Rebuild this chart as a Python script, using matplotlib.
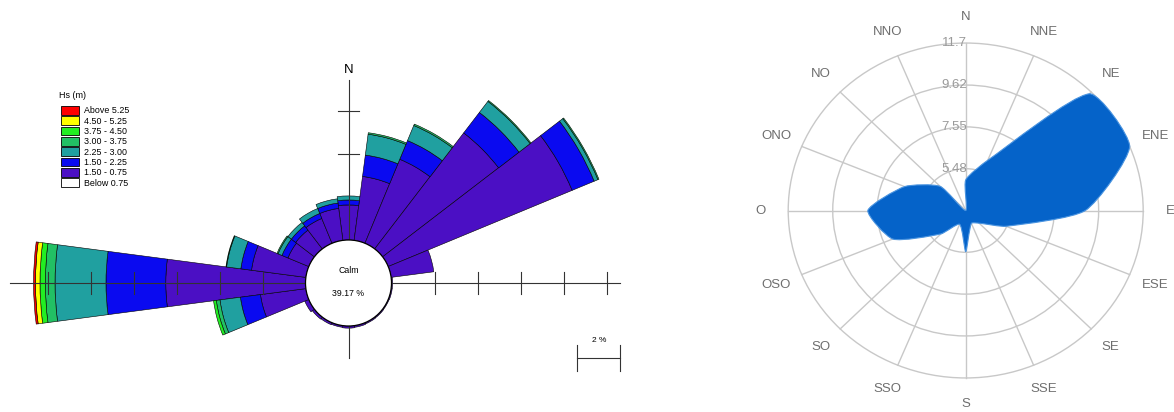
import numpy as np
import matplotlib
matplotlib.use('Agg')
import matplotlib.pyplot as plt
from matplotlib.patches import Wedge, Circle, Patch, PathPatch
from matplotlib.path import Path

plt.rcParams['font.family'] = ['Liberation Sans', 'DejaVu Sans']

# ---------------------------------------------------------------
# Rose des houles : fréquence (%) par secteur de 15° et classe de Hs
# ---------------------------------------------------------------
directions = np.arange(0, 360, 15)
hs_lt075 = [0, 0, 0, 0, 0, 0, 0, 0, 0, 0, 0, 0,
            0, 0, 0, 0, 0, 0, 0, 0, 0, 0, 0, 0]
hs_075_150 = [1.63, 3.00, 4.23, 6.80, 9.26, 2.00, 0.05, 0.05, 0.04, 0.05, 0.06, 0.08,
              0.10, 0.08, 0.10, 0.12, 0.20, 2.13, 6.50, 2.55, 1.05, 1.10, 1.25, 1.50]
hs_150_225 = [0.23, 1.00, 0.94, 1.20, 1.11, 0, 0, 0, 0, 0, 0, 0,
              0, 0, 0, 0, 0, 0.94, 2.78, 0.50, 0.30, 0.25, 0.25, 0.25]
hs_225_300 = [0.19, 0.98, 0.76, 0.65, 0.19, 0, 0, 0, 0, 0, 0, 0,
              0, 0, 0, 0, 0, 0.96, 2.37, 0.67, 0.20, 0.20, 0.25, 0.20]
hs_300_375 = [0, 0.07, 0.07, 0.05, 0.05, 0, 0, 0, 0, 0, 0, 0,
              0, 0, 0, 0, 0, 0.17, 0.45, 0.03, 0.05, 0, 0, 0]
hs_375_450 = [0, 0, 0, 0, 0, 0, 0, 0, 0, 0, 0, 0,
              0, 0, 0, 0, 0, 0.13, 0.25, 0, 0, 0, 0, 0]
hs_450_525 = [0, 0, 0, 0, 0, 0, 0, 0, 0, 0, 0, 0,
              0, 0, 0, 0, 0, 0, 0.21, 0, 0, 0, 0, 0]
hs_gt525 = [0, 0, 0, 0, 0, 0, 0, 0, 0, 0, 0, 0,
            0, 0, 0, 0, 0, 0, 0.09, 0, 0, 0, 0, 0]
calm_pct = 39.17

classes = [hs_lt075, hs_075_150, hs_150_225, hs_225_300,
           hs_300_375, hs_375_450, hs_450_525, hs_gt525]
class_labels = ['Below 0.75', '1.50 - 0.75', '1.50 - 2.25', '2.25 - 3.00',
                '3.00 - 3.75', '3.75 - 4.50', '4.50 - 5.25', 'Above 5.25']
class_colors = ['#ffffff', '#4b0fc4', '#0a0af0', '#20a0a0',
                '#22c064', '#22ee22', '#ffff00', '#ff0000']

# ---------------------------------------------------------------
# Rose radar : valeur par direction (16 secteurs)
# ---------------------------------------------------------------
radar_labels = ['N', 'NNE', 'NE', 'ENE', 'E', 'ESE', 'SE', 'SSE',
                'S', 'SSO', 'SO', 'OSO', 'O', 'ONO', 'NO', 'NNO']
radar_values = [4.92, 6.10, 11.58, 11.70, 9.00, 5.45, 4.30, 4.10,
                5.45, 4.15, 5.05, 7.10, 7.98, 6.50, 5.10, 3.41]
radar_ticks = [5.48, 7.55, 9.62, 11.7]
radar_min = 3.41


def spline_path(xs, ys, tension):
    """Contour fermé lissé (courbes de Bézier) passant par les points."""
    n = len(xs)
    pts = np.column_stack([xs, ys])
    cp_prev, cp_next = [], []
    for i in range(n):
        p0, p1, p2 = pts[i - 1], pts[i], pts[(i + 1) % n]
        d01 = np.hypot(*(p1 - p0))
        d12 = np.hypot(*(p2 - p1))
        tot = d01 + d12
        s01 = d01 / tot if tot else 0
        s12 = d12 / tot if tot else 0
        cp_prev.append(p1 - tension * s01 * (p2 - p0))
        cp_next.append(p1 + tension * s12 * (p2 - p0))
    verts = [pts[0]]
    codes = [Path.MOVETO]
    for i in range(n):
        j = (i + 1) % n
        verts += [cp_next[i], cp_prev[j], pts[j]]
        codes += [Path.CURVE4] * 3
    verts.append(pts[0])
    codes.append(Path.CLOSEPOLY)
    return Path(verts, codes)


W, H = 1174, 412
fig = plt.figure(figsize=(W / 100, H / 100), dpi=100)

# ---------------- rose des houles ----------------
ax1 = fig.add_axes([0, 0, 740 / W, 1])
px = 21.5               # pixels pour 1 %
cx, cy = 348.5, 283
ax1.set_xlim(-cx / px, (740 - cx) / px)
ax1.set_ylim(-(H - cy) / px, cy / px)
ax1.axis('off')

r_calm = 2.0
base = np.zeros(len(directions))
for vals, col in zip(classes, class_colors):
    vals = np.asarray(vals, dtype=float)
    for d, b, v in zip(directions, base, vals):
        if v <= 0:
            continue
        ax1.add_patch(Wedge((0, 0), r_calm + b + v, 90 - d - 7.5, 90 - d + 7.5,
                            width=v, facecolor=col, edgecolor='black',
                            linewidth=0.4, zorder=2))
    base = base + vals

# axes gradués
axc = '#333333'
ax1.plot([-15.75, 12.65], [0, 0], color=axc, lw=0.8, zorder=5)
ax1.plot([0, 0], [-3.5, 9.45], color=axc, lw=0.8, zorder=5)
for t in [2, 4, 6, 8, 10, 12]:
    ax1.plot([-(r_calm + t)] * 2, [-0.5, 0.5], color=axc, lw=0.8, zorder=5)
for t in [2, 4, 6, 8, 10]:
    ax1.plot([r_calm + t] * 2, [-0.5, 0.5], color=axc, lw=0.8, zorder=5)
for t in [4, 6]:
    ax1.plot([-0.5, 0.5], [r_calm + t] * 2, color=axc, lw=0.8, zorder=5)

ax1.add_patch(Circle((0, 0), r_calm, facecolor='white', edgecolor='black',
                     linewidth=0.9, zorder=6))
ax1.text(0, 0.6, 'Calm', ha='center', va='center', fontsize=6.3, zorder=7)
ax1.text(0, -0.5, f'{calm_pct:.2f} %', ha='center', va='center', fontsize=6.3, zorder=7)
ax1.text(0, 9.9, 'N', ha='center', va='center', fontsize=9.5)

# échelle 2 %
ax1.plot([10.65, 12.65], [-3.5, -3.5], color=axc, lw=0.8)
for x in [10.65, 12.65]:
    ax1.plot([x, x], [-4.1, -2.9], color=axc, lw=0.8)
ax1.text(11.65, -2.85, '2 %', ha='center', va='bottom', fontsize=6)

# légende des classes de Hs
ax1.text(59 / 740, 1 - 95 / H, 'Hs (m)', transform=ax1.transAxes,
         ha='left', va='center', fontsize=6.5)
handles = [Patch(facecolor=c, edgecolor='black', linewidth=0.6)
           for c in class_colors[::-1]]
ax1.legend(handles, class_labels[::-1], loc='upper left',
           bbox_to_anchor=(61 / 740, 1 - 106 / H), frameon=False,
           fontsize=6.4, handlelength=2.0, handleheight=1.15,
           labelspacing=0.1, handletextpad=0.6, borderpad=0, borderaxespad=0)

# ---------------- rose radar ----------------
ax2 = fig.add_axes([740 / W, 0, 434 / W, 1])
ppx, ppy = 21.41, 20.2
rx0, ry0 = 965.7 - 740, 210.5
ax2.set_xlim(-rx0 / ppx, (434 - rx0) / ppx)
ax2.set_ylim(-(H - ry0) / ppy, ry0 / ppy)
ax2.axis('off')

grid_c = '#c8c8c8'
r_out = radar_ticks[-1] - radar_min
for tv in radar_ticks:
    ax2.add_patch(Circle((0, 0), tv - radar_min, fill=False, edgecolor=grid_c,
                         linewidth=1.0, zorder=1))
ang = np.deg2rad(np.arange(len(radar_labels)) * 22.5)
for a in ang:
    ax2.plot([0, r_out * np.sin(a)], [0, r_out * np.cos(a)], color=grid_c,
             lw=1.0, zorder=1)

rr = np.asarray(radar_values) - radar_min
path = spline_path(rr * np.sin(ang), rr * np.cos(ang), tension=0.2)
ax2.add_patch(PathPatch(path, facecolor='#0563c9', edgecolor='#4a94e0',
                        linewidth=0.8, zorder=3))

for tv in radar_ticks:
    ax2.text(0.05, tv - radar_min, f'{tv:g}', ha='right', va='center',
             fontsize=9.5, color='#9a9a9a', zorder=4)
r_lab = r_out * 1.155
for a, lab in zip(ang, radar_labels):
    ax2.text(r_lab * np.sin(a), r_lab * np.cos(a), lab, ha='center', va='center',
             fontsize=9.5, color='#6e6e6e', clip_on=False)

fig.savefig('out.png', dpi=100)
